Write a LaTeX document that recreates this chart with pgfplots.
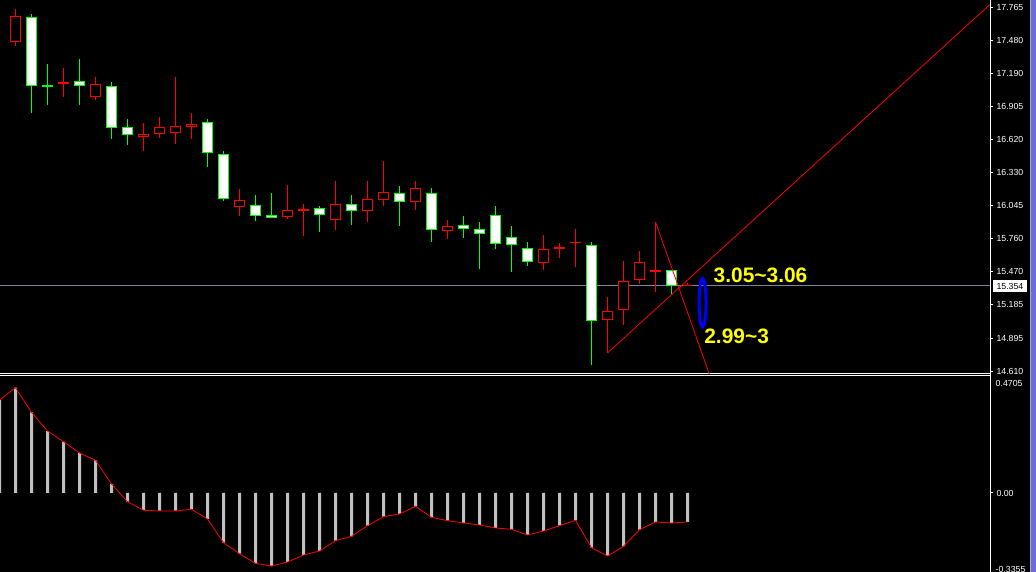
\documentclass[border=0pt]{standalone}
\usepackage{fontspec}
\setmainfont{Liberation Sans}
\usepackage{pgfplots}
\usepackage{pgfplotstable}
\pgfplotsset{compat=1.18}

\definecolor{bull}{RGB}{255,0,0}
\definecolor{bear}{RGB}{0,255,0}
\definecolor{histo}{RGB}{192,192,192}
\definecolor{lastline}{RGB}{119,136,153}
\definecolor{sidebar}{RGB}{108,108,212}
\definecolor{sideedge}{RGB}{170,170,232}
\definecolor{note}{RGB}{255,255,0}
\definecolor{ring}{RGB}{0,0,255}

% candle body, height in bp comes from \bh
\pgfdeclareplotmark{candle}{%
  \pgfpathrectangle{\pgfpoint{-4.65bp}{-0.5bp*\bh}}{\pgfpoint{9.3bp}{1bp*\bh}}%
  \pgfusepathqfillstroke}
% wick, drawn up from the low, length in bp comes from \wl
\pgfdeclareplotmark{wick}{%
  \pgfpathmoveto{\pgfpointorigin}%
  \pgfpathlineto{\pgfpoint{0pt}{1bp*\wl}}%
  \pgfusepathqstroke}

% red = close above open
\pgfplotstableread{
k o h l c
0 17.438 17.499 17.412 17.467
1 17.467 17.750 17.432 17.687
4 17.097 17.239 16.990 17.115
6 16.990 17.158 16.964 17.097
9 16.638 16.762 16.521 16.664
10 16.664 16.814 16.634 16.724
11 16.672 17.158 16.582 16.733
12 16.729 16.848 16.625 16.750
15 16.030 16.187 15.958 16.091
18 15.944 16.221 15.932 16.004
19 16.001 16.059 15.781 16.013
21 15.916 16.256 15.834 16.056
23 16.001 16.259 15.903 16.100
24 16.096 16.432 16.044 16.161
26 16.079 16.259 16.007 16.195
28 15.822 15.920 15.758 15.866
34 15.545 15.790 15.489 15.666
35 15.666 15.721 15.593 15.684
36 15.718 15.842 15.515 15.730
38 15.050 15.252 14.767 15.128
39 15.137 15.565 15.012 15.389
40 15.397 15.651 15.368 15.553
41 15.472 15.903 15.298 15.487
43 15.346 15.372 15.346 15.354
}\up

% white = close below open
\pgfplotstableread{
k o h l c
2 17.678 17.707 16.851 17.080
3 17.089 17.273 16.920 17.071
5 17.123 17.317 16.920 17.080
7 17.080 17.115 16.625 16.716
8 16.724 16.796 16.573 16.655
13 16.768 16.796 16.383 16.499
14 16.490 16.516 16.088 16.100
16 16.048 16.135 15.914 15.952
17 15.961 16.154 15.935 15.935
20 16.022 16.039 15.819 15.961
22 16.059 16.137 15.877 16.001
25 16.152 16.215 15.868 16.074
27 16.152 16.198 15.732 15.831
29 15.874 15.955 15.764 15.840
30 15.840 15.903 15.498 15.796
31 15.961 16.042 15.671 15.715
32 15.770 15.868 15.472 15.701
33 15.675 15.730 15.524 15.553
37 15.701 15.730 14.665 15.042
42 15.484 15.484 15.276 15.345
}\dn

\pgfplotstableread{
k m s
0 0.3875 0.3875
1 0.4388 0.4388
2 0.3363 0.3363
3 0.2583 0.2583
4 0.2138 0.2138
5 0.1667 0.1667
6 0.1363 0.1363
7 0.0375 0.0375
8 -0.0363 -0.0363
9 -0.0708 -0.0720
10 -0.0738 -0.0750
11 -0.0738 -0.0750
12 -0.0679 -0.0679
13 -0.1083 -0.1083
14 -0.2071 -0.2071
15 -0.2529 -0.2529
16 -0.2929 -0.2929
17 -0.3042 -0.3042
18 -0.2875 -0.2875
19 -0.2583 -0.2583
20 -0.2417 -0.2417
21 -0.1988 -0.1988
22 -0.1804 -0.1804
23 -0.1363 -0.1363
24 -0.0988 -0.0988
25 -0.0875 -0.0875
26 -0.0554 -0.0554
27 -0.1013 -0.1013
28 -0.1154 -0.1154
29 -0.1250 -0.1250
30 -0.1333 -0.1333
31 -0.1458 -0.1458
32 -0.1513 -0.1513
33 -0.1750 -0.1750
34 -0.1583 -0.1583
35 -0.1363 -0.1363
36 -0.1138 -0.1138
37 -0.2279 -0.2279
38 -0.2625 -0.2625
39 -0.2221 -0.2221
40 -0.1529 -0.1529
41 -0.1208 -0.1208
42 -0.1250 -0.1250
43 -0.1208 -0.1208
}\macd

\pgfplotsset{
  mtchart/.style={
    scale only axis, width=990.5bp,
    xmin=0.03125, xmax=61.9375,
    axis y line*=right,
    axis line style={white, line width=1bp, -},
    xtick=\empty,
    tick align=outside, major tick length=2.5bp,
    tick style={white, line width=1bp},
    scaled y ticks=false,
    yticklabel style={text=white, font=\fontsize{8.8}{10}\selectfont},
    /pgf/number format/assume math mode=true,
    /pgf/number format/fixed,
    /pgf/number format/fixed zerofill,
  },
  % 115.3 bp per price unit (373.5bp / (17.828-14.589))
  wick/.style={only marks, mark=wick,
    mark options={color=#1, draw=#1, line width=1bp, solid},
    visualization depends on={(\thisrow{h}-\thisrow{l})*115.3 \as \wl}},
  body/.style 2 args={only marks, mark=candle,
    mark options={draw=#1, fill=#2, line width=1bp, solid},
    visualization depends on={max(abs(\thisrow{c}-\thisrow{o})*115.3-1,0) \as \bh}},
}

\begin{document}
\begin{tikzpicture}
\useasboundingbox (0,0) rectangle (1036bp,572bp);
\fill[black] (0,0) rectangle (1036bp,572bp);

% price panel
\begin{axis}[mtchart,
  at={(0bp,198.5bp)}, anchor=south west, height=373.5bp,
  ymin=14.589, ymax=17.828,
  axis x line*=bottom,
  ytick={14.610,14.895,15.185,15.470,15.760,16.045,16.330,16.620,16.905,17.190,17.480,17.765},
  /pgf/number format/precision=3,
  clip marker paths=true,
]
\addplot[lastline, line width=1bp] coordinates {(0.03125,15.354) (61.9375,15.354)};

% wicks first, bodies over them
\addplot[bull, wick=bull] table[x=k, y=l] {\up};
\addplot[bear, wick=bear] table[x=k, y=l] {\dn};
\addplot[body={bull}{black}] table[x=k, y expr=(\thisrow{o}+\thisrow{c})/2] {\up};
\addplot[body={bear}{white}] table[x=k, y expr=(\thisrow{o}+\thisrow{c})/2] {\dn};

% trend lines
\addplot[bull, line width=0.8bp] coordinates {(38,14.767) (61.94,17.794)};
\addplot[bull, line width=0.8bp] coordinates {(41,15.903) (44.45,14.55)};

\draw[ring, line width=3bp] (axis cs:43.94,15.203) ellipse [x radius=3.5bp, y radius=24.2bp];
\node[anchor=base west, inner sep=0pt, text=note, font=\fontsize{21}{24}\selectfont\bfseries]
  at (axis cs:44.625,15.374) {3.05\textasciitilde3.06};
\node[anchor=base west, inner sep=0pt, text=note, font=\fontsize{21}{24}\selectfont\bfseries]
  at (axis cs:44.04,14.845) {2.99\textasciitilde3};
\end{axis}

% MACD panel
\begin{axis}[mtchart,
  at={(0bp,0bp)}, anchor=south west, height=196bp,
  ymin=-0.3292, ymax=0.4875,
  axis x line*=top,
  ytick={0},
  /pgf/number format/precision=2,
]
\addplot[ybar, bar width=3bp, bar shift=0pt, fill=histo, draw=none] table[x=k, y=m] {\macd};
\addplot[bull, line width=0.8bp] table[x=k, y=s] {\macd};
\end{axis}

\draw[white, line width=1bp] (990.5bp,0) -- (990.5bp,572bp);
\node[anchor=west, inner sep=0pt, fill=white, text=black, font=\fontsize{8.8}{10}\selectfont,
  minimum width=34.4bp, minimum height=12.3bp] at (992.5bp,286bp) {15.354};
\node[anchor=west, inner sep=0pt, text=white, font=\fontsize{8.8}{10}\selectfont]
  at (995.5bp,188.7bp) {0.4705};
\node[anchor=west, inner sep=0pt, text=white, font=\fontsize{8.8}{10}\selectfont]
  at (995.5bp,3bp) {-0.3355};
\fill[sideedge] (1030.2bp,0) rectangle (1031.2bp,572bp);
\fill[sidebar] (1031.2bp,0) rectangle (1036bp,572bp);
\end{tikzpicture}
\end{document}
